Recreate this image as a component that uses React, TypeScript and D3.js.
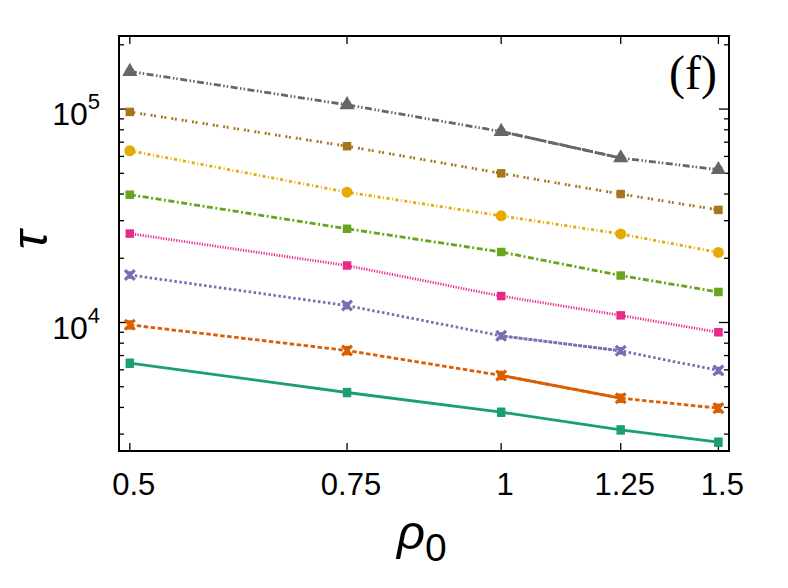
import React, { useRef, useEffect } from 'react';
import * as d3 from 'd3';

// density values on the x axis
const rhoValues = [0.5, 0.75, 1, 1.25, 1.5];
const xTickLabels = ['0.5', '0.75', '1', '1.25', '1.5'];

// relaxation time for each curve, top to bottom
const tauGray = [150000, 104700, 78500, 59000, 52000];
const tauBrown = [97000, 67000, 50000, 40000, 33700];
const tauGold = [63800, 40800, 31600, 26000, 21300];
const tauGreen = [39700, 27500, 21400, 16600, 13900];
const tauMagenta = [26100, 18500, 13300, 10800, 9000];
const tauPurple = [16700, 12000, 8660, 7370, 5960];
const tauOrange = [9750, 7390, 5650, 4420, 3970];
const tauTeal = [6450, 4700, 3800, 3140, 2750];

const yMajorTicks = [1e4, 1e5];
const yMinorTicks = [3000, 4000, 5000, 6000, 7000, 8000, 9000, 20000, 30000, 40000, 50000, 60000, 70000, 80000, 90000, 200000];

type Marker = 'triangle' | 'square' | 'circle' | 'x';

interface Series {
  name: string;
  values: number[];
  color: string;
  dash: string;
  marker: Marker;
  err: number; // relative error bar half-width
}

const series: Series[] = [
  { name: 'gray', values: tauGray, color: '#666666', dash: '7,2.5,1.5,2,1.5,2.5', marker: 'triangle', err: 0.02 },
  { name: 'brown', values: tauBrown, color: '#a6761d', dash: '2,1.5,2,5', marker: 'square', err: 0.02 },
  { name: 'gold', values: tauGold, color: '#e6ab02', dash: '3,2.5,1,2.5', marker: 'circle', err: 0.02 },
  { name: 'green', values: tauGreen, color: '#66a61e', dash: '6,2.5,2,2.5', marker: 'square', err: 0.02 },
  { name: 'magenta', values: tauMagenta, color: '#e7298a', dash: '1.2,1.4', marker: 'square', err: 0.025 },
  { name: 'purple', values: tauPurple, color: '#7570b3', dash: '2.5,2.5', marker: 'x', err: 0.03 },
  { name: 'orange', values: tauOrange, color: '#d95f02', dash: '4.5,2.5', marker: 'x', err: 0.04 },
  { name: 'teal', values: tauTeal, color: '#1b9e77', dash: 'none', marker: 'square', err: 0.04 },
];

// segments drawn twice by the plotting program, so they look denser
const overdrawn = [
  { name: 'gray', from: 2, dash: '10,2' },
  { name: 'purple', from: 2, dash: '1.5,1' },
  { name: 'orange', from: 2, dash: 'none' },
];

const W = 788;
const H = 588;

const App: React.FC = () => {
  const svgRef = useRef<SVGSVGElement>(null);

  useEffect(() => {
    if (!svgRef.current) return;
    const svg = d3.select(svgRef.current);
    svg.selectAll('*').remove();

    const plot = { left: 119, right: 729, top: 36, bottom: 451 };

    const x = d3.scaleLog().domain([0.49, 1.53]).range([plot.left, plot.right]);
    const y = d3.scaleLog().domain([2500, 220000]).range([plot.bottom, plot.top]);

    const font = "'Liberation Sans', Arial, Helvetica, sans-serif";

    svg.append('rect').attr('width', W).attr('height', H).attr('fill', '#fff');

    const clipId = 'plot-clip';
    svg.append('clipPath').attr('id', clipId)
      .append('rect')
      .attr('x', plot.left).attr('y', plot.top)
      .attr('width', plot.right - plot.left).attr('height', plot.bottom - plot.top);

    const ticks = svg.append('g').attr('stroke', '#000').attr('stroke-width', 1.3);

    // y ticks on left and right, pointing inward
    const yTicks = [
      ...yMajorTicks.map(v => ({ v, len: 10 })),
      ...yMinorTicks.map(v => ({ v, len: 5 })),
    ];
    yTicks.forEach(t => {
      const yy = y(t.v);
      ticks.append('line').attr('x1', plot.left).attr('x2', plot.left + t.len).attr('y1', yy).attr('y2', yy);
      ticks.append('line').attr('x1', plot.right).attr('x2', plot.right - t.len).attr('y1', yy).attr('y2', yy);
    });

    // x ticks on bottom and top
    rhoValues.forEach(v => {
      const xx = x(v);
      ticks.append('line').attr('x1', xx).attr('x2', xx).attr('y1', plot.bottom).attr('y2', plot.bottom - 8);
      ticks.append('line').attr('x1', xx).attr('x2', xx).attr('y1', plot.top).attr('y2', plot.top + 8);
    });

    // x tick labels
    svg.append('g')
      .selectAll('text')
      .data(rhoValues)
      .enter()
      .append('text')
      .attr('x', d => x(d) + 4)
      .attr('y', 495)
      .attr('text-anchor', 'middle')
      .style('font-family', font)
      .style('font-size', '31px')
      .text((d, i) => xTickLabels[i]);

    // y tick labels as powers of ten
    yMajorTicks.forEach(v => {
      const t = svg.append('text')
        .attr('x', 100)
        .attr('y', y(v) + 16)
        .attr('text-anchor', 'end')
        .style('font-family', font)
        .style('font-size', '32px');
      t.append('tspan').text('10');
      t.append('tspan')
        .attr('dy', -16)
        .style('font-size', '22px')
        .text(String(Math.round(Math.log10(v))));
    });

    // curves
    const line = d3.line<[number, number]>()
      .x(d => x(d[0]))
      .y(d => y(d[1]));

    const curves = svg.append('g').attr('clip-path', `url(#${clipId})`);

    series.forEach(s => {
      const pts: [number, number][] = rhoValues.map((r, i) => [r, s.values[i]]);
      curves.append('path')
        .datum(pts)
        .attr('fill', 'none')
        .attr('stroke', s.color)
        .attr('stroke-width', s.dash === 'none' ? 2.8 : 2.8)
        .attr('stroke-dasharray', s.dash)
        .attr('d', line);

      overdrawn.filter(o => o.name === s.name).forEach(o => {
        curves.append('path')
          .datum(pts.slice(o.from, o.from + 2))
          .attr('fill', 'none')
          .attr('stroke', s.color)
          .attr('stroke-width', 2.8)
          .attr('stroke-dasharray', o.dash)
          .attr('d', line);
      });

      const g = curves.append('g');
      pts.forEach(p => {
        const cx = x(p[0]);
        const cy = y(p[1]);
        // error bar
        const y0 = y(p[1] * (1 - s.err));
        const y1 = y(p[1] * (1 + s.err));
        g.append('line').attr('x1', cx).attr('x2', cx).attr('y1', y0).attr('y2', y1)
          .attr('stroke', s.color).attr('stroke-width', 2);
        [y0, y1].forEach(yc => {
          g.append('line').attr('x1', cx - 4).attr('x2', cx + 4).attr('y1', yc).attr('y2', yc)
            .attr('stroke', s.color).attr('stroke-width', 2);
        });

        if (s.marker === 'x') {
          g.append('path')
            .attr('transform', `translate(${cx},${cy})`)
            .attr('d', d3.symbol(d3.symbolX, 64)())
            .attr('fill', 'none')
            .attr('stroke', s.color)
            .attr('stroke-width', 3.2);
        } else {
          const type = s.marker === 'triangle' ? d3.symbolTriangle
            : s.marker === 'circle' ? d3.symbolCircle : d3.symbolSquare;
          const size = s.marker === 'triangle' ? 100 : s.marker === 'circle' ? 95 : 72;
          g.append('path')
            .attr('transform', `translate(${cx},${cy})`)
            .attr('d', d3.symbol(type, size)())
            .attr('fill', s.color);
        }
      });
    });

    // frame
    svg.append('rect')
      .attr('x', plot.left).attr('y', plot.top)
      .attr('width', plot.right - plot.left).attr('height', plot.bottom - plot.top)
      .attr('fill', 'none')
      .attr('stroke', '#000')
      .attr('stroke-width', 2);

    // panel tag
    svg.append('text')
      .attr('x', 717)
      .attr('y', 89)
      .attr('text-anchor', 'end')
      .style('font-family', "'Liberation Serif', 'Times New Roman', serif")
      .style('font-size', '48px')
      .text('(f)');

    // axis titles
    const xTitle = svg.append('text')
      .attr('x', 397)
      .attr('y', 549)
      .style('font-family', font)
      .style('font-size', '49px');
    xTitle.append('tspan').style('font-style', 'italic').text('ρ');
    xTitle.append('tspan').attr('dy', 12).style('font-size', '39px').text('0');

    svg.append('text')
      .attr('transform', 'translate(47,240) rotate(-90)')
      .attr('text-anchor', 'middle')
      .style('font-family', font)
      .style('font-style', 'italic')
      .style('font-size', '50px')
      .text('τ');
  }, []);

  return (
    <svg
      ref={svgRef}
      width={W}
      height={H}
      style={{ position: 'absolute', left: 0, top: 0, display: 'block' }}
    ></svg>
  );
};

export default App;
